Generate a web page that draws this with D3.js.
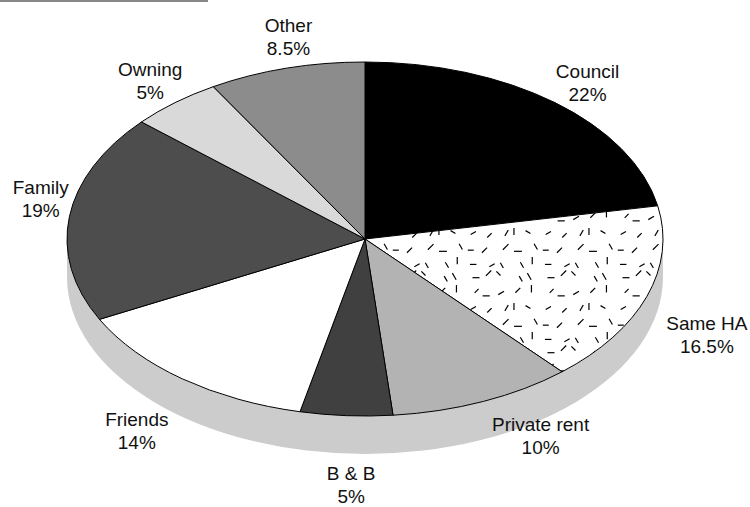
<html>
<head>
    <style>
        body { margin: 0; background: #fff; }
        .lbl text {
            font-family: "Liberation Sans", Arial, Helvetica, sans-serif;
            font-size: 19px;
            fill: #111;
        }
        .slice { stroke: #000; stroke-width: 1; }
    </style>
</head>
<body>
    <svg id="container" width="750" height="507"></svg>
</body>
<script src="https://cdn.jsdelivr.net/npm/d3@7"></script>
<script>
    // Data (clockwise from 12 o'clock)
    const categories = ["Council", "Same HA", "Private rent", "B & B", "Friends", "Family", "Owning", "Other"];
    const shares = [22, 16.5, 10, 5, 14, 19, 5, 8.5];
    const shareLabels = ["22%", "16.5%", "10%", "5%", "14%", "19%", "5%", "8.5%"];

    // Styles
    const fills = ["#000000", "url(#dashes)", "#b3b3b3", "#404040", "#ffffff", "#4d4d4d", "#d9d9d9", "#8c8c8c"];
    // small hand tweaks so the labels sit where the original put them
    const labelNudge = {
        "Council": [6, 2], "Same HA": [12, -9], "Private rent": [34, -30], "B & B": [7, 2],
        "Friends": [-20, -9], "Family": [9, -15], "Owning": [2, 0], "Other": [11, -4]
    };

    const svg = d3.select("#container");
    const cx = 365, cy = 239, rx = 298, ry = 177, depth = 38;

    // top-left rule left over from the page
    svg.append("rect").attr("x", 0).attr("y", 0).attr("width", 208).attr("height", 2).attr("fill", "#888");

    // dash texture for "Same HA" (seeded so it is the same every time)
    let seed = 11;
    const rnd = () => { seed = (seed * 16807) % 2147483647; return (seed - 1) / 2147483646; };
    const tile = 75, cells = 5, cell = tile / cells;
    const pat = svg.append("defs").append("pattern")
        .attr("id", "dashes")
        .attr("patternUnits", "userSpaceOnUse")
        .attr("width", tile).attr("height", tile);
    pat.append("rect").attr("width", tile).attr("height", tile).attr("fill", "#fff");
    const angles = [0, 90, 30, 150, 60, 120, 45, 135];
    for (let i = 0; i < cells; i++) {
        for (let j = 0; j < cells; j++) {
            const x = i * cell + 3 + rnd() * (cell - 6), y = j * cell + 3 + rnd() * (cell - 6);
            const a = angles[Math.floor(rnd() * angles.length)] * Math.PI / 180;
            const len = 5.5 + rnd() * 2.5;
            pat.append("line")
                .attr("x1", x - Math.cos(a) * len / 2).attr("y1", y - Math.sin(a) * len / 2)
                .attr("x2", x + Math.cos(a) * len / 2).attr("y2", y + Math.sin(a) * len / 2)
                .attr("stroke", "#000").attr("stroke-width", 1.2);
        }
    }

    const pie = d3.pie().sort(null).value(d => d)(shares);
    const pt = (a, dy = 0) => [cx + rx * Math.sin(a), cy - ry * Math.cos(a) + dy];

    // side of the disc
    svg.append("path")
        .attr("d", `M${cx - rx},${cy}A${rx},${ry} 0 0 0 ${cx + rx},${cy}L${cx + rx},${cy + depth}A${rx},${ry} 0 0 1 ${cx - rx},${cy + depth}Z`)
        .attr("fill", "#cccccc");

    // top face slices
    const slicePath = d => {
        const p0 = pt(d.startAngle), p1 = pt(d.endAngle);
        const large = d.endAngle - d.startAngle > Math.PI ? 1 : 0;
        return `M${cx},${cy}L${p0}A${rx},${ry} 0 ${large} 1 ${p1}Z`;
    };
    svg.append("g").selectAll("path")
        .data(pie)
        .join("path")
        .attr("class", "slice")
        .attr("d", slicePath)
        .attr("fill", (d, i) => fills[i]);

    // labels
    const lbl = svg.append("g").attr("class", "lbl");
    pie.forEach((d, i) => {
        const mid = (d.startAngle + d.endAngle) / 2;
        const s = Math.sin(mid), c = Math.cos(mid);
        const t = lbl.append("text").attr("text-anchor", "middle");
        t.append("tspan").attr("x", 0).attr("dy", 0).text(categories[i]);
        t.append("tspan").attr("x", 0).attr("dy", 23).text(shareLabels[i]);
        const w = d3.max(t.selectAll("tspan").nodes(), n => n.getComputedTextLength());
        const e = pt(mid, c < 0 ? depth : 0);
        const nx = labelNudge[categories[i]];
        const x = e[0] + s * (10 + w / 2) + nx[0];
        const y = e[1] - c * (10 + 18.5) - 4.5 + nx[1];
        t.attr("transform", `translate(${x},${y})`);
    });
</script>
</html>
